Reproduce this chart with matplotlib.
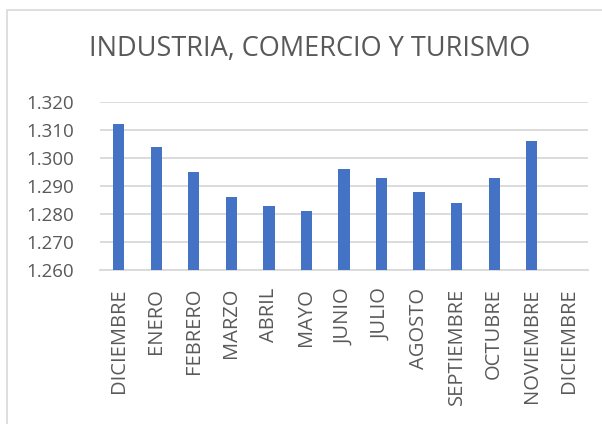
import matplotlib.pyplot as plt
from matplotlib.ticker import FuncFormatter, MultipleLocator
from matplotlib.patches import Rectangle

meses = ['DICIEMBRE', 'ENERO', 'FEBRERO', 'MARZO', 'ABRIL', 'MAYO', 'JUNIO',
         'JULIO', 'AGOSTO', 'SEPTIEMBRE', 'OCTUBRE', 'NOVIEMBRE', 'DICIEMBRE']
# miles de afiliados; el último diciembre aún sin dato
valores = [1312, 1304, 1295, 1286, 1283, 1281, 1296,
           1293, 1288, 1284, 1293, 1306, None]

plt.rcParams['font.family'] = ['Open Sans', 'DejaVu Sans']

fig = plt.figure(figsize=(6.02, 4.24), dpi=100)
ax = fig.add_axes([100 / 602, 1 - 270 / 424, 488 / 602, 168 / 424])

# marco exterior del gráfico (se sale por abajo y por la derecha)
fig.patches.append(Rectangle((7 / 602, -10 / 424), 620 / 602, 424 / 424,
                             transform=fig.transFigure, fill=False,
                             edgecolor='#D9D9D9', linewidth=1.2))

x = list(range(len(meses)))
alturas = [v if v is not None else 0 for v in valores]
ax.bar(x, alturas, width=0.3, color='#4472C4', zorder=3)

ax.set_ylim(1260, 1320)
ax.set_xlim(-0.5, len(meses) - 0.5)
ax.yaxis.set_major_locator(MultipleLocator(10))
ax.yaxis.set_major_formatter(FuncFormatter(lambda v, p: f'{v / 1000:.3f}'))
ax.grid(axis='y', color='#D9D9D9', linewidth=1.3, zorder=0)
for s in ['top', 'right', 'left']:
    ax.spines[s].set_visible(False)
ax.spines['bottom'].set_color('#D9D9D9')
ax.spines['bottom'].set_linewidth(1.3)
ax.tick_params(length=0, colors='#595959')
ax.set_xticks(x)
ax.set_xticklabels(meses, rotation=90)
ax.tick_params(axis='x', pad=13, labelsize=14.5)
ax.tick_params(axis='y', pad=19, labelsize=13.5)

fig.text(0.515, 1 - 49 / 424, 'INDUSTRIA, COMERCIO Y TURISMO', ha='center',
         va='center', fontsize=19.5, color='#595959')

fig.savefig('out.png', dpi=100)
